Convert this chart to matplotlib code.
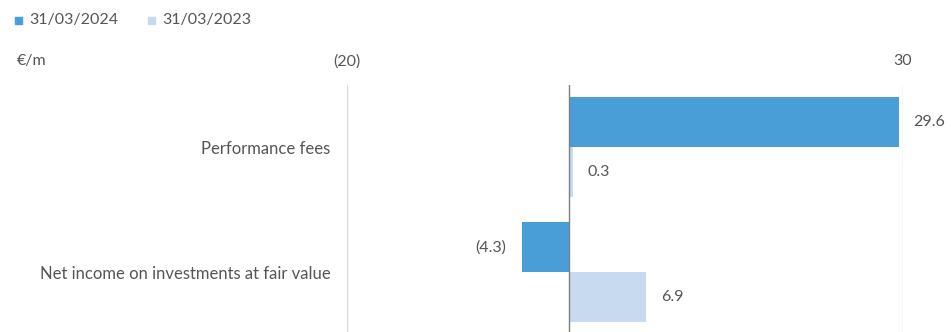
import numpy as np
import matplotlib.pyplot as plt
from matplotlib.patches import Rectangle

plt.rcParams['font.family'] = ['Lato', 'DejaVu Sans']

categories = ['Performance fees', 'Net income on investments at fair value']
series_names = ['31/03/2024', '31/03/2023']
values_2024 = [29.6, -4.3]
values_2023 = [0.3, 6.9]
colors = ['#4a9ed8', '#c8daf0']
tick_values = [-20, 30]
tick_labels = ['(20)', '30']

text_col = '#555555'

W, H = 951, 332
fig = plt.figure(figsize=(W / 100, H / 100), dpi=100)
ax = fig.add_axes([347 / W, 0, 556 / W, 247 / H])

y = np.arange(len(categories))
h = 0.4
ax.barh(y - h / 2, values_2024, height=h, color=colors[0], zorder=2)
ax.barh(y + h / 2, values_2023, height=h, color=colors[1], zorder=2)

ax.set_xlim(-20, 30)
ax.set_ylim(1.48, -0.5)

# light grid lines at the ends, darker zero line
for v in tick_values:
    ax.axvline(v, color='#d9d9d9', lw=1, zorder=1)
ax.axvline(0, color='#7f7f7f', lw=1, zorder=3)

for s in ax.spines.values():
    s.set_visible(False)

ax.xaxis.tick_top()
ax.set_xticks(tick_values)
ax.set_xticklabels(tick_labels)
ax.tick_params(axis='x', length=0, pad=12, labelsize=11.5, labelcolor=text_col)
ax.set_yticks(y)
ax.set_yticklabels(categories)
ax.tick_params(axis='y', length=0, pad=12, labelsize=12, labelcolor=text_col)


def fmt(v):
    return f'({abs(v):.1f})' if v < 0 else f'{v:.1f}'


for vals, off in [(values_2024, -h / 2), (values_2023, h / 2)]:
    for i, v in enumerate(vals):
        ax.annotate(fmt(v), xy=(v, i + off), xytext=(15 if v >= 0 else -15, 0),
                    textcoords='offset pixels', va='center',
                    ha='left' if v >= 0 else 'right',
                    fontsize=11.5, color=text_col, annotation_clip=False)

# legend and unit label
for k, name in enumerate(series_names):
    x0 = 15 + k * 133
    fig.patches.append(Rectangle((x0 / W, 1 - 24 / H), 7 / W, 7 / H,
                                 transform=fig.transFigure, color=colors[k]))
    fig.text((x0 + 14) / W, 1 - 20 / H, name, fontsize=11.5, color=text_col,
             va='center', ha='left')
fig.text(17 / W, 1 - 61 / H, '€/m', fontsize=11.5, color=text_col,
         va='center', ha='left')

fig.savefig('out.png', dpi=100)
